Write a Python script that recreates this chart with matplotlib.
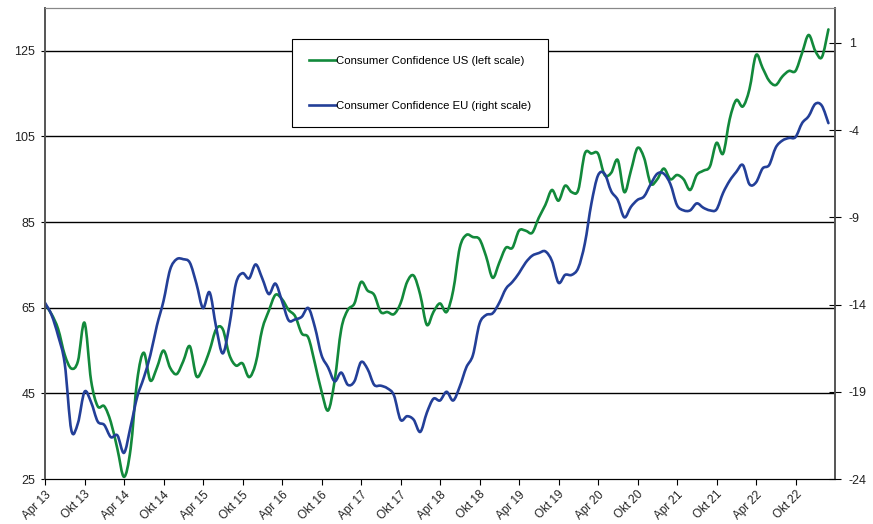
import matplotlib
matplotlib.use("Agg")
import matplotlib.pyplot as plt
from matplotlib.path import Path
from matplotlib.patches import PathPatch
from matplotlib.lines import Line2D

plt.rcParams['font.family'] = ['Liberation Sans', 'DejaVu Sans']

# monthly readings, Apr 2013 - Mar 2023
us_conf = [
    65.8, 63.5, 60.0, 54.0, 50.8, 52.5, 61.5, 48.0, 42.0, 42.0,
    38.3, 32.0, 25.5, 32.0, 48.0, 54.5, 48.0, 51.0, 55.0, 51.0,
    49.5, 52.5, 56.0, 49.0, 51.0, 55.0, 60.0, 60.0, 54.0, 51.5,
    52.0, 48.8, 52.0, 60.0, 64.3, 68.0, 67.0, 64.5, 63.0, 59.0,
    58.0, 52.0, 45.5, 41.0, 48.0, 60.0, 64.5, 66.0, 71.0, 69.0,
    68.0, 64.0, 64.0, 63.5, 66.0, 71.0, 72.5, 68.0, 61.0, 64.0,
    66.0, 64.0, 69.0, 79.0, 82.0, 81.5, 81.0, 77.0, 72.0, 75.5,
    79.0, 79.0, 83.0, 83.0, 82.5, 86.0, 89.0, 92.5, 90.0, 93.5,
    92.0, 92.5, 101.0, 101.0, 101.0, 96.0, 96.5, 99.5, 92.0, 97.0,
    102.3, 100.0, 94.0, 95.0, 97.5, 95.0, 96.0, 95.0, 92.5, 96.0,
    97.0, 98.0, 103.5, 101.0, 109.0, 113.5, 112.0, 116.0, 124.0, 121.0,
    118.0, 117.0, 119.0, 120.3, 120.3, 124.5, 128.7, 125.0, 123.5, 130.0,
]
eu_conf = [
    -13.9, -14.6, -15.8, -17.4, -21.2, -20.8, -19.0, -19.6, -20.7, -20.9,
    -21.6, -21.5, -22.5, -21.0, -19.3, -18.2, -16.9, -15.2, -13.8, -12.0,
    -11.4, -11.4, -11.6, -12.8, -14.2, -13.3, -15.3, -16.8, -15.2, -12.8,
    -12.2, -12.5, -11.7, -12.5, -13.4, -12.8, -13.8, -14.9, -14.85, -14.7,
    -14.2, -15.3, -16.9, -17.6, -18.4, -17.9, -18.6, -18.4, -17.3, -17.7,
    -18.6, -18.65, -18.8, -19.2, -20.6, -20.4, -20.6, -21.3, -20.2, -19.4,
    -19.5, -19.0, -19.5, -18.7, -17.6, -16.9, -15.1, -14.6, -14.5, -13.9,
    -13.1, -12.7, -12.2, -11.6, -11.2, -11.05, -10.95, -11.5, -12.75, -12.3,
    -12.3, -11.9, -10.5, -8.2, -6.6, -6.5, -7.5, -8.0, -9.0, -8.4,
    -8.0, -7.8, -7.1, -6.5, -6.5, -7.1, -8.3, -8.6, -8.6, -8.2,
    -8.45, -8.6, -8.55, -7.6, -6.9, -6.4, -6.0, -7.1, -7.0, -6.2,
    -6.0, -5.0, -4.6, -4.45, -4.4, -3.6, -3.2, -2.5, -2.6, -3.6,
]
tick_labels = ["Apr 13", "Okt 13", "Apr 14", "Okt 14", "Apr 15", "Okt 15",
               "Apr 16", "Okt 16", "Apr 17", "Okt 17", "Apr 18", "Okt 18",
               "Apr 19", "Okt 19", "Apr 20", "Okt 20", "Apr 21", "Okt 21",
               "Apr 22", "Okt 22"]
left_ticks = [25, 45, 65, 85, 105, 125]
right_ticks = [-24, -19, -14, -9, -4, 1]

green = "#12893b"
blue = "#233f98"
months = list(range(len(us_conf)))


def smooth_path(xs, ys):
    # cubic bezier through every point (catmull-rom style tangents)
    pts = list(zip(xs, ys))
    verts = [pts[0]]
    codes = [Path.MOVETO]
    n = len(pts)
    for i in range(n - 1):
        p0 = pts[i - 1] if i > 0 else pts[i]
        p1 = pts[i]
        p2 = pts[i + 1]
        p3 = pts[i + 2] if i + 2 < n else pts[i + 1]
        c1 = (p1[0] + (p2[0] - p0[0]) / 6, p1[1] + (p2[1] - p0[1]) / 6)
        c2 = (p2[0] - (p3[0] - p1[0]) / 6, p2[1] - (p3[1] - p1[1]) / 6)
        verts += [c1, c2, p2]
        codes += [Path.CURVE4] * 3
    return Path(verts, codes)


fig = plt.figure(figsize=(8.73, 5.24), dpi=100)
ax = fig.add_axes([45 / 873, 45 / 524, 790 / 873, 471 / 524])
ax2 = ax.twinx()

ax.set_ylim(25, 135)
ax2.set_ylim(-24, 3)
ax.set_xlim(0, 120)

# horizontal grid follows the left scale
for v in left_ticks[1:]:
    ax.axhline(v, color="black", lw=1.0, zorder=0)

ax.add_patch(PathPatch(smooth_path(months, us_conf), fill=False,
                       edgecolor=green, lw=1.9, capstyle="round",
                       joinstyle="round"))
ax2.add_patch(PathPatch(smooth_path(months, eu_conf), fill=False,
                        edgecolor=blue, lw=1.9, capstyle="round",
                        joinstyle="round"))

ax.set_xticks(range(0, 120, 6))
ax.set_xticklabels(tick_labels, rotation=45, ha="right", rotation_mode="anchor",
                   fontsize=8.5, color="#222222")
ax.tick_params(axis="x", direction="out", length=4, width=0.8, pad=3)

ax.set_yticks(left_ticks)
ax.set_yticklabels([str(v) for v in left_ticks], fontsize=9, color="#222222")
ax.tick_params(axis="y", direction="out", length=3, width=0.8, pad=4)

ax2.set_yticks(right_ticks)
ax2.set_yticklabels([str(v) for v in right_ticks], fontsize=9, color="#222222")
ax2.tick_params(axis="y", direction="inout", length=8, width=0.8, pad=6)

for a in (ax, ax2):
    a.spines["left"].set_color("#555555")
    a.spines["right"].set_color("#555555")
    a.spines["top"].set_color("#888888")
    a.spines["bottom"].set_color("black")
    a.spines["left"].set_linewidth(1.2)
    a.spines["right"].set_linewidth(1.2)

handles = [
    Line2D([], [], color=green, lw=1.9, label="Consumer Confidence US (left scale)"),
    Line2D([], [], color=blue, lw=1.9, label="Consumer Confidence EU (right scale)"),
]
leg = ax2.legend(handles=handles, loc="upper left",
                 bbox_to_anchor=(0.3127, 0.934), borderaxespad=0,
                 fontsize=8.2, frameon=True, fancybox=False,
                 edgecolor="black", framealpha=1, labelspacing=3.1,
                 handlelength=2.4, handletextpad=0.0, borderpad=1.45)
leg.get_frame().set_linewidth(0.8)

fig.savefig("out.png", dpi=100)
